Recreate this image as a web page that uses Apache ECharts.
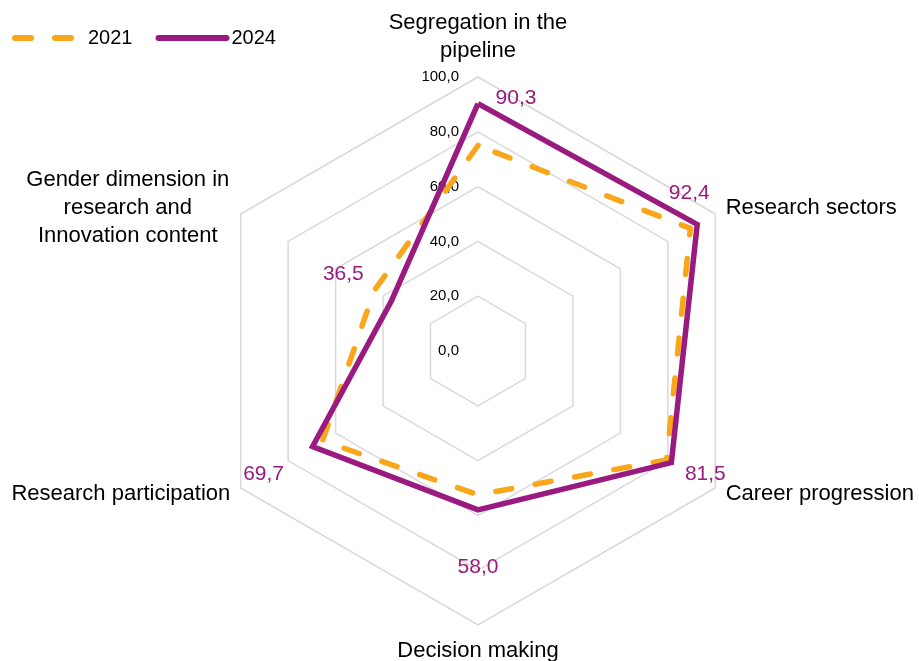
<!DOCTYPE html>
<html>
<head>
<meta charset="utf-8">
<script src="https://cdn.jsdelivr.net/npm/echarts@6/dist/echarts.min.js"></script>
<style>
  html, body { margin: 0; padding: 0; background: #ffffff; }
  #chart { width: 919px; height: 661px; }
</style>
</head>
<body>
<div id="chart"></div>
<script>
// ---- data ----
const categories = [
  'Segregation in the\npipeline',
  'Research sectors',
  'Career progression',
  'Decision making',
  'Research participation',
  'Gender dimension in\nresearch and\nInnovation content'
];
const seriesNames = ['2021', '2024'];
const values2021 = [75.0, 89.5, 79.5, 52.5, 65.5, 43.8];
const values2024 = [90.3, 92.4, 81.5, 58.0, 69.7, 36.5];
const axisMin = 0;
const axisMax = 100;
const axisSplits = 5;

// ---- styles ----
const FONT = '"Liberation Sans", Arial, sans-serif';
const ORANGE = '#F9A61A';
const PURPLE = '#9A1B80';
const labelOffsets = [[38, -5], [-8, -31], [34, 12], [0, 57], [-49, 28], [-48, -27]];

function fmt(v) { return Number(v).toFixed(1).replace('.', ','); }

// ECharts places indicators counter-clockwise; reference is clockwise
const order = [0, 5, 4, 3, 2, 1];
const disp = arr => order.map(i => arr[i]);

const indicator = order.map(i => {
  const o = { name: categories[i], min: axisMin, max: axisMax };
  if (i !== 0) o.axisLabel = { show: false };
  return o;
});

const series = [
  { type: 'line', name: seriesNames[0], data: [], symbol: 'none', showSymbol: false, color: ORANGE,
    lineStyle: { color: ORANGE, width: 6, type: [16, 24], cap: 'round' } },
  { type: 'line', name: seriesNames[1], data: [], symbol: 'none', showSymbol: false, color: PURPLE,
    lineStyle: { color: PURPLE, width: 6, type: 'solid', cap: 'round' } },
  { type: 'radar', name: seriesNames[0], symbol: 'none', z: 2,
    data: [{ value: disp(values2021) }],
    lineStyle: { color: ORANGE, width: 5.5, type: [16, 24], cap: 'round', join: 'round' },
    itemStyle: { color: ORANGE } },
  { type: 'radar', name: seriesNames[1], symbol: 'none', z: 3,
    data: [{ value: disp(values2024) }],
    lineStyle: { color: PURPLE, width: 5.5, type: 'solid', join: 'miter' },
    itemStyle: { color: PURPLE } }
];

// value labels of 2024, one overlay per vertex so each can sit on its own side
labelOffsets.forEach((off, k) => {
  series.push({
    type: 'radar', name: 'lbl' + k, silent: true, z: 4,
    symbol: 'circle', symbolSize: 0,
    data: [{ value: disp(values2024) }],
    lineStyle: { width: 0, opacity: 0 },
    itemStyle: { color: PURPLE },
    label: {
      show: true, position: 'inside', offset: off,
      color: PURPLE, fontSize: 21, fontFamily: FONT,
      formatter: p => {
        const v = Array.isArray(p.value) ? null : p.value;
        return v === values2024[k] ? fmt(v) : '';
      }
    }
  });
});

const chart = echarts.init(document.getElementById('chart'), null, { renderer: 'canvas' });
chart.setOption({
  animation: false,
  backgroundColor: '#ffffff',
  legend: {
    data: seriesNames,
    left: 12, top: 28, padding: 0,
    itemWidth: 68, itemHeight: 14, itemGap: 23,
    textStyle: { fontSize: 20, color: '#000', fontFamily: FONT },
    lineStyle: { width: 6, cap: 'round' },
    itemStyle: { opacity: 0 }
  },
  grid: { left: 0, top: 0, width: 1, height: 1, show: false },
  xAxis: { type: 'category', show: false },
  yAxis: { type: 'value', show: false },
  radar: {
    center: ['52.01%', '53.1%'],
    radius: 274,
    startAngle: 90,
    splitNumber: axisSplits,
    shape: 'polygon',
    nameGap: 12,
    indicator: indicator,
    axisName: {
      color: '#000', fontSize: 22, lineHeight: 28, fontFamily: FONT,
      formatter: (name) => {
        if (name === categories[5]) {
          return name.split('\n').map(s => '{c|' + s + '}').join('\n');
        }
        return name;
      },
      rich: {
        c: { width: 205, align: 'center', fontSize: 22, lineHeight: 28, color: '#000', fontFamily: FONT }
      }
    },
    axisLine: { show: false },
    axisTick: { show: false },
    axisLabel: {
      show: true, color: '#000', fontSize: 15, fontFamily: FONT, margin: 19,
      formatter: v => fmt(v)
    },
    splitLine: { lineStyle: { color: '#d9d9d9', width: 1.5 } },
    splitArea: { show: false }
  },
  series: series
});
</script>
</body>
</html>
